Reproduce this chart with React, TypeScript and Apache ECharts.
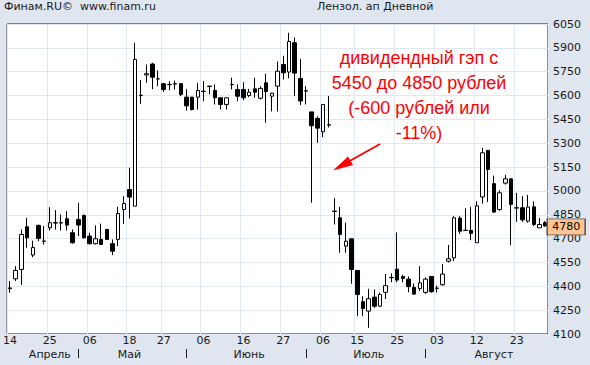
import React, { useEffect, useRef } from 'react';
import * as echarts from 'echarts';

// Daily candles (Лензолото ап)
const open = [
  4385, 4447, 4506, 4774, 4597, 4783, 4685, 4768, 4798, 4800,
  4825, 4737, 4821, 4846, 4716, 4668, 4695, 4758, 4668, 4695,
  4883, 5009, 4904, 5600, 5730, 5798, 5705, 5674, 5668, 5674,
  5675, 5590, 5590, 5590, 5627, 5659, 5632, 5586, 5544, 5670,
  5638, 5638, 5600, 5642, 5583, 5680, 5596, 5659, 5795, 5748,
  5932, 5707, 5630, 5497, 5456, 5372, 5416, 4873, 4831, 4653,
  4699, 4500, 4303, 4244, 4332, 4275, 4362, 4456, 4508, 4462,
  4445, 4393, 4385, 4362, 4462, 4387, 4410, 4558, 4579, 4829,
  4753, 4752, 4674, 4962, 5255, 5046, 4883, 5049, 5076, 4894,
  4894, 4810, 4900, 4768, 4800,
];
const close = [
  4390, 4500, 4726, 4705, 4644, 4701, 4683, 4800, 4800, 4798,
  4785, 4674, 4785, 4705, 4668, 4699, 4663, 4695, 4621, 4858,
  4921, 4961, 5827, 5602, 5737, 5715, 5705, 5638, 5670, 5672,
  5607, 5535, 5512, 5632, 5625, 5657, 5586, 5544, 5586, 5668,
  5596, 5586, 5621, 5621, 5645, 5625, 5615, 5753, 5743, 5940,
  5741, 5566, 5628, 5410, 5395, 5544, 5414, 4871, 4726, 4684,
  4506, 4349, 4261, 4322, 4275, 4349, 4404, 4454, 4439, 4449,
  4398, 4351, 4422, 4445, 4366, 4389, 4477, 4573, 4831, 4747,
  4751, 4733, 4906, 5240, 5135, 4867, 4988, 5076, 4915, 4892,
  4818, 4899, 4789, 4789, 4780,
];
const low = [
  4360, 4433, 4408, 4642, 4583, 4683, 4663, 4751, 4757, 4751,
  4751, 4668, 4716, 4701, 4663, 4663, 4663, 4695, 4596, 4653,
  4793, 4827, 4904, 5548, 5680, 5640, 5659, 5623, 5633, 5638,
  5596, 5505, 5506, 5512, 5564, 5607, 5544, 5512, 5512, 5638,
  5564, 5571, 5590, 5586, 5575, 5429, 5500, 5500, 5701, 5708,
  5596, 5540, 5544, 4926, 5303, 5338, 5399, 4789, 4611, 4611,
  4416, 4212, 4212, 4139, 4265, 4271, 4320, 4425, 4425, 4425,
  4362, 4347, 4370, 4351, 4360, 4362, 4404, 4550, 4558, 4730,
  4747, 4690, 4674, 4920, 4930, 4862, 4876, 5040, 4658, 4805,
  4805, 4800, 4778, 4768, 4775,
];
const high = [
  4433, 4527, 4757, 4831, 4687, 4789, 4779, 4898, 4879, 4852,
  4873, 4758, 4925, 4852, 4737, 4784, 4794, 4758, 4695, 4900,
  4967, 5146, 5932, 5697, 5795, 5806, 5758, 5680, 5690, 5695,
  5676, 5640, 5592, 5680, 5690, 5662, 5670, 5586, 5586, 5712,
  5670, 5684, 5642, 5712, 5658, 5737, 5617, 5814, 5850, 5995,
  5965, 5830, 5659, 5497, 5470, 5544, 5596, 4954, 4900, 4800,
  4699, 4500, 4338, 4385, 4380, 4360, 4477, 4481, 4739, 4473,
  4462, 4418, 4527, 4456, 4462, 4404, 4540, 4660, 4841, 4841,
  4890, 4900, 4935, 5271, 5255, 5096, 5004, 5101, 5076, 4988,
  4967, 4975, 4934, 4830, 4810,
];

// Axis labels
const dayTickIndex = [0, 7, 14, 21, 27, 34, 41, 48, 55, 61, 68, 75, 82, 89];
const dayTickLabels = ['14', '25', '06', '18', '27', '06', '16', '27', '06', '15', '25', '03', '12', '23'];
const monthLabelIndex = [7, 21, 42, 63, 85];
const monthLabels = ['Апрель', 'Май', 'Июнь', 'Июль', 'Август'];
const monthBreakIndex = [12, 31, 52, 73];
const yMin = 4100;
const yMax = 6050;
const yStep = 150;
const lastPrice = 4780;

const headerLeft = 'Финам.RU©  www.finam.ru';
const headerRight = 'Лензол. ап Дневной';
const note = 'дивидендный гэп с\n5450 до 4850 рублей\n(-600 рублей или\n-11%)';

export default function App() {
  const ref = useRef<HTMLDivElement>(null);
  useEffect(() => {
    const chart = echarts.init(ref.current as HTMLDivElement, null, { renderer: 'svg' });
    const categories = open.map((_, i) => String(i));
    const candles = open.map((o, i) => [o, close[i], low[i], high[i]]);
    const font = 'DejaVu Sans';
    const ink = '#1a1a1a';
    const gridColor = '#e1e7f0';
    const headStyle = { fontSize: 11, fontWeight: 'normal', color: ink, fontFamily: font };
    chart.setOption({
      animation: false,
      backgroundColor: '#dfe6f0',
      textStyle: { fontFamily: font },
      title: [
        { text: headerLeft, left: 4, top: 1, padding: 0, textStyle: headStyle },
        { text: headerRight, left: 317, top: 1, padding: 0, textStyle: headStyle },
      ],
      grid: {
        left: 5, right: 42, top: 24, bottom: 31, show: true,
        backgroundColor: '#ffffff', borderColor: ink, borderWidth: 1,
      },
      xAxis: [
        {
          type: 'category', data: categories, boundaryGap: true,
          axisLine: { show: false }, axisTick: { show: false },
          axisLabel: {
            interval: (i: number) => dayTickIndex.includes(i),
            formatter: (_v: string, i: number) => dayTickLabels[dayTickIndex.indexOf(i)] ?? '',
            fontSize: 11, color: ink, margin: 1, fontFamily: font,
          },
          splitLine: {
            show: true, interval: (i: number) => dayTickIndex.includes(i),
            lineStyle: { color: gridColor, width: 1 },
          },
        },
        {
          type: 'category', data: categories, boundaryGap: true, position: 'bottom', offset: 15,
          axisLine: { show: false },
          axisTick: {
            show: true, alignWithLabel: true, length: 9,
            interval: (i: number) => monthBreakIndex.includes(i),
            lineStyle: { color: ink, width: 1 },
          },
          axisLabel: {
            interval: (i: number) => monthLabelIndex.includes(i),
            formatter: (_v: string, i: number) => monthLabels[monthLabelIndex.indexOf(i)] ?? '',
            fontSize: 11, color: ink, margin: 0, fontFamily: font,
          },
          splitLine: { show: false },
        },
      ],
      yAxis: {
        type: 'value', position: 'right', min: yMin, max: yMax, interval: yStep,
        axisLine: { show: false }, axisTick: { show: false },
        axisLabel: {
          fontSize: 11, color: ink, margin: 5, fontFamily: font,
          formatter: (v: number) => String(Math.round(v)),
        },
        splitLine: { show: true, lineStyle: { color: gridColor, width: 1 } },
      },
      series: [
        {
          type: 'candlestick', data: candles, barWidth: 4, clip: false,
          itemStyle: {
            color: '#ffffff', color0: '#000000',
            borderColor: '#000000', borderColor0: '#000000', borderWidth: 1,
          },
          markPoint: {
            symbol: 'rect', symbolSize: [38, 16], symbolOffset: [21, 1],
            data: [{ coord: [categories[categories.length - 1], lastPrice], value: lastPrice }],
            itemStyle: { color: '#ffc490', borderColor: '#555555', borderWidth: 1 },
            label: { show: true, position: 'inside', color: '#000000', fontSize: 11, fontFamily: font, formatter: String(lastPrice) },
          },
        },
      ],
      graphic: [
        {
          type: 'text', x: 419, y: 45, z: 100,
          style: {
            text: note, fill: '#ff0000', fontSize: 18, fontFamily: 'Liberation Sans',
            textAlign: 'center', textVerticalAlign: 'top', lineHeight: 25,
          },
        },
        {
          type: 'line', z: 100,
          shape: { x1: 380, y1: 144, x2: 347, y2: 162.5 },
          style: { stroke: '#ff0000', lineWidth: 2 },
        },
        {
          type: 'polygon', z: 100,
          shape: { points: [[333, 170.5], [353, 165], [348, 156.5]] },
          style: { fill: '#ff0000' },
        },
      ],
    });
    return () => chart.dispose();
  }, []);
  return <div ref={ref} style={{ position: 'absolute', left: 0, top: 0, width: 590, height: 365 }} />;
}
